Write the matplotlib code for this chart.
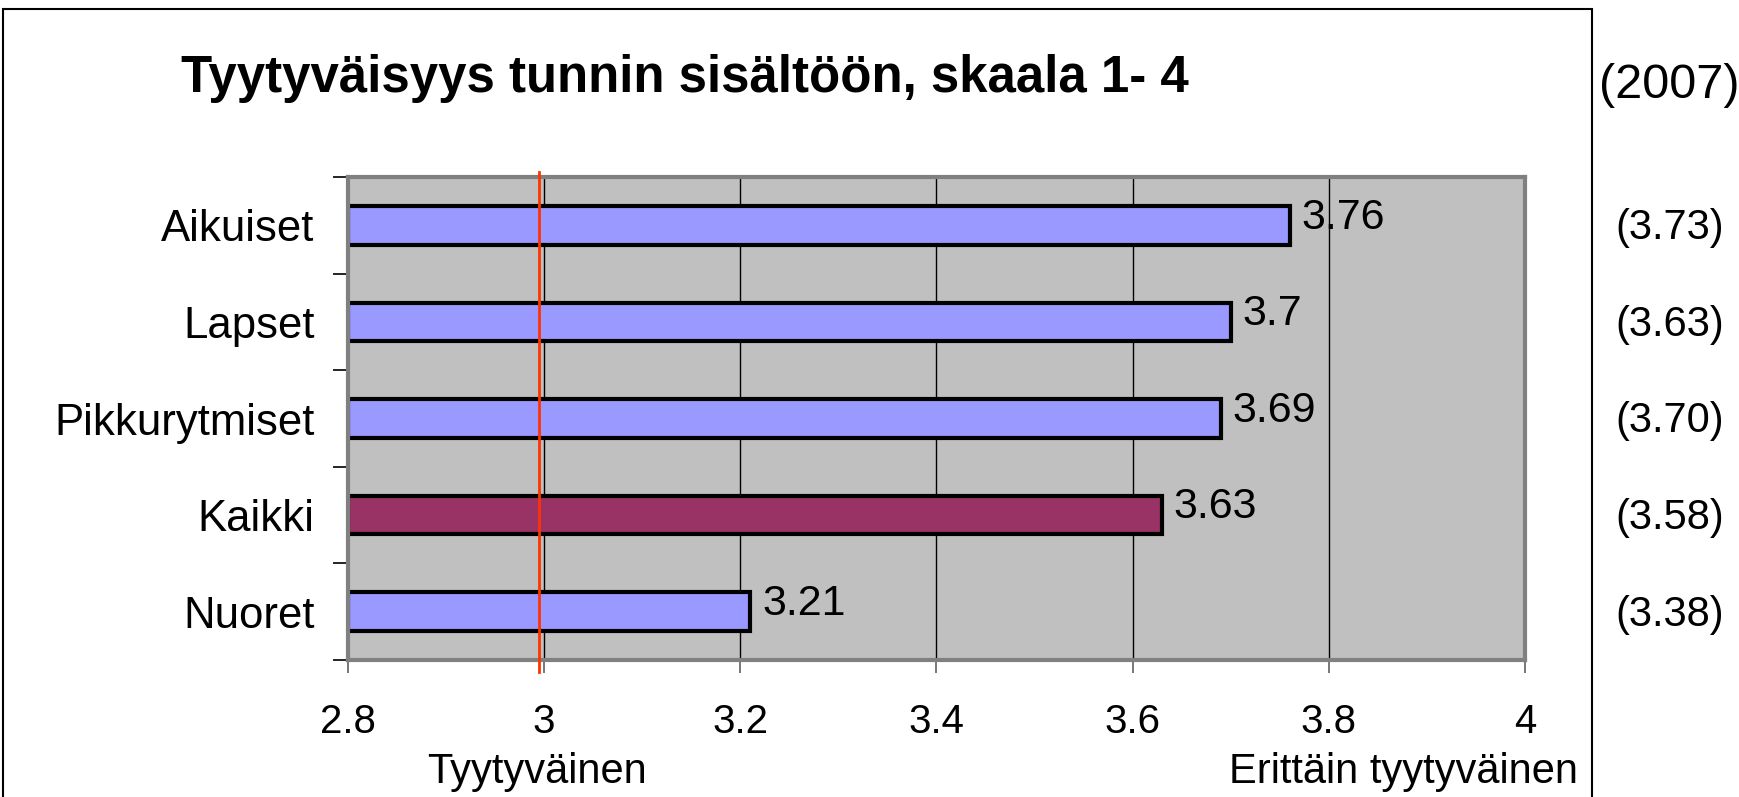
import matplotlib
matplotlib.use("Agg")
import matplotlib.pyplot as plt
from matplotlib.patches import Rectangle
from matplotlib.transforms import blended_transform_factory

plt.rcParams['font.family'] = ['Liberation Sans', 'DejaVu Sans']

categories = ["Aikuiset", "Lapset", "Pikkurytmiset", "Kaikki", "Nuoret"]
values = [3.76, 3.70, 3.69, 3.63, 3.21]
value_labels = ["3.76", "3.7", "3.69", "3.63", "3.21"]
prev_labels = ["(3.73)", "(3.63)", "(3.70)", "(3.58)", "(3.38)"]
bar_colors = ["#9999FF", "#9999FF", "#9999FF", "#993366", "#9999FF"]
xticks = [2.8, 3.0, 3.2, 3.4, 3.6, 3.8, 4.0]
xtick_labels = ["2.8", "3", "3.2", "3.4", "3.6", "3.8", "4"]
ref_line = 2.995

W, H = 1740, 797
fig = plt.figure(figsize=(W / 100, H / 100), dpi=100)
ax = fig.add_axes([348 / W, 1 - 660 / H, (1525 - 348) / W, (660 - 177) / H])
ax.set_facecolor("#C0C0C0")

n = len(categories)
ypos = list(range(n))
ax.barh(ypos, [v - 2.8 for v in values], left=2.8, height=0.4,
        color=bar_colors, edgecolor="black", linewidth=3, zorder=3)
ax.set_xlim(2.8, 4.0)
ax.set_ylim(n - 0.5, -0.5)

for x in xticks[1:-1]:
    ax.axvline(x, color="black", linewidth=1, zorder=1)

ax.axvline(ref_line, ymin=-0.025, ymax=1.01, color="#FF3300", linewidth=2,
           zorder=5, clip_on=False)

for i, (v, lab) in enumerate(zip(values, value_labels)):
    ax.text(v + 0.012, i - 0.08, lab, va="center", ha="left", fontsize=31,
            zorder=6)

ax.set_xticks(xticks)
ax.set_xticklabels(xtick_labels, fontsize=29)
ax.set_yticks([y - 0.5 for y in range(n + 1)], minor=False)
ax.set_yticklabels([])
ax.set_yticks(ypos, minor=True)
ax.set_yticklabels(categories, minor=True, fontsize=31.5)
ax.tick_params(axis="y", which="major", length=11, width=1.2, color="black",
               direction="out")
ax.tick_params(axis="y", which="minor", length=0, pad=24)
ax.tick_params(axis="x", length=9, width=1.2, color="#606060", pad=22)

for s in ax.spines.values():
    s.set_color("#808080")
    s.set_linewidth(3)
    s.set_zorder(4)

# previous year values
trans = blended_transform_factory(fig.transFigure, ax.transData)
for i, lab in enumerate(prev_labels):
    ax.text(1670 / W, i + 0.03, lab, transform=trans, ha="center", va="center",
            fontsize=30)

fig.text(181 / W, 1 - 92 / H, "Tyytyväisyys tunnin sisältöön, skaala 1- 4",
         fontsize=36.7, fontweight="bold", ha="left", va="baseline")
fig.text(1669 / W, 1 - 85 / H, "(2007)", fontsize=35, ha="center", va="center")
fig.text(537 / W, 1 - 772 / H, "Tyytyväinen", fontsize=30, ha="center",
         va="center")
fig.text(1578 / W, 1 - 772 / H, "Erittäin tyytyväinen", fontsize=30,
         ha="right", va="center")

fig.patches.append(Rectangle((3 / W, -0.05), (1592 - 3) / W, 1.05 - 9 / H,
                             transform=fig.transFigure, fill=False,
                             edgecolor="black", linewidth=1.5))

fig.savefig("out.png", dpi=100)
